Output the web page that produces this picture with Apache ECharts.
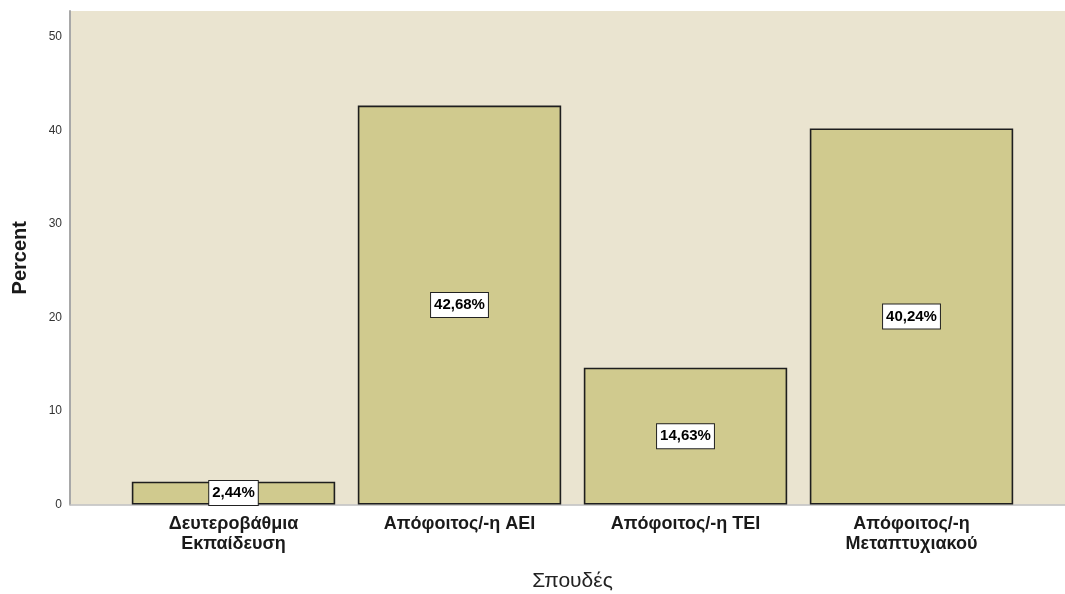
<!DOCTYPE html>
<html>
<head>
<meta charset="utf-8">
<script src="https://cdn.jsdelivr.net/npm/echarts@6/dist/echarts.min.js"></script>
<style>
  html, body { margin: 0; padding: 0; background: #ffffff; }
  #chart { width: 1065px; height: 594px; }
</style>
</head>
<body>
<div id="chart"></div>
<script>
// Education level distribution (percent of respondents)
const categories = ['Δευτεροβάθμια\nΕκπαίδευση', 'Απόφοιτος/-η ΑΕΙ', 'Απόφοιτος/-η ΤΕΙ', 'Απόφοιτος/-η\nΜεταπτυχιακού'];
const percents = [2.44, 42.68, 14.63, 40.24];
const yTicks = [0, 10, 20, 30, 40, 50];

const Y_MAX = 52.8;
const FONT = '"Liberation Sans", Arial, sans-serif';

const chart = echarts.init(document.getElementById('chart'), null, { renderer: 'canvas' });

chart.setOption({
  animation: false,
  backgroundColor: '#ffffff',
  grid: [
    // frame: shaded plot background and value axis
    { left: 70, right: 0, top: 11, bottom: 89.5, show: true, backgroundColor: '#EAE4D0', borderWidth: 0,
      containLabel: false, outerBoundsMode: 'none' },
    // bars
    { left: 120.5, right: 40.5, top: 11, bottom: 89.5, containLabel: false, outerBoundsMode: 'none' }
  ],
  xAxis: [
    {
      gridIndex: 0, type: 'value', min: 0, max: 1,
      axisLine: { show: true, onZero: false, lineStyle: { color: '#BDBDBD', width: 1.5 } },
      axisTick: { show: false }, axisLabel: { show: false }, splitLine: { show: false }
    },
    {
      gridIndex: 1, type: 'category', data: categories,
      name: 'Σπουδές', nameLocation: 'middle', nameGap: 66,
      nameTextStyle: { fontFamily: FONT, fontSize: 21, color: '#222222' },
      axisLine: { show: false }, axisTick: { show: false },
      axisLabel: {
        fontFamily: FONT, fontSize: 18, fontWeight: 'bold', color: '#1A1A1A',
        margin: 10, lineHeight: 20, interval: 0
      }
    }
  ],
  yAxis: [
    {
      gridIndex: 0, type: 'value', min: 0, max: Y_MAX, interval: 10,
      name: 'Percent', nameLocation: 'middle', nameGap: 40,
      nameTextStyle: { fontFamily: FONT, fontSize: 20, fontWeight: 'bold', color: '#1A1A1A' },
      axisLine: { show: true, lineStyle: { color: '#A8A8A8', width: 2 } },
      axisTick: { show: false },
      splitLine: { show: false },
      axisLabel: {
        fontFamily: FONT, fontSize: 12, color: '#333333', margin: 8,
        formatter: v => (yTicks.includes(v) ? String(v) : '')
      }
    },
    {
      gridIndex: 1, type: 'value', min: 0, max: Y_MAX, interval: 10,
      show: false, splitLine: { show: false }
    }
  ],
  series: [
    {
      type: 'bar',
      xAxisIndex: 1, yAxisIndex: 1,
      data: percents,
      barCategoryGap: '10%',
      itemStyle: { color: '#D0CA8E', borderColor: '#1E1E1E', borderWidth: 1.6 },
      label: {
        show: true, position: 'inside',
        formatter: p => p.value.toFixed(2).replace('.', ',') + '%',
        fontFamily: FONT, fontSize: 15, fontWeight: 'bold', color: '#000000',
        backgroundColor: '#ffffff', borderColor: '#222222', borderWidth: 1,
        padding: [5, 3, 4, 3]
      }
    }
  ]
});
</script>
</body>
</html>
